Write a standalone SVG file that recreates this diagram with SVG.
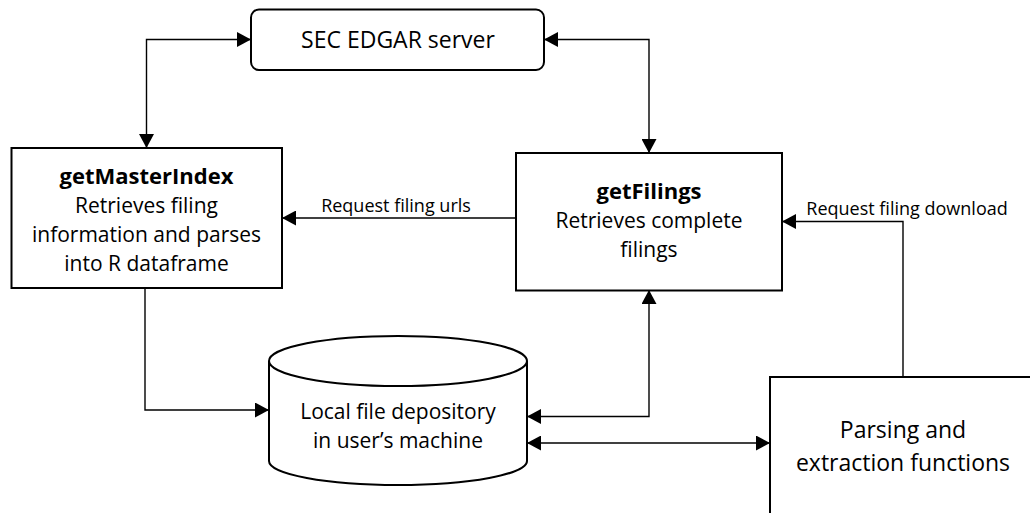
<svg xmlns="http://www.w3.org/2000/svg" width="1030" height="513" viewBox="0 0 1030 513">
<style>
.box{fill:#fff;stroke:#000;stroke-width:2}
.ln{fill:none;stroke:#000;stroke-width:1.4}
.t{font-family:"Open Sans","Noto Sans",sans-serif;font-size:21px;fill:#000;text-anchor:middle}
.b{font-weight:bold;font-size:22px}
.big{font-size:23px}
.lbl{font-family:"Open Sans","Noto Sans",sans-serif;font-size:18px;fill:#000;text-anchor:middle}
</style>
<defs>
<marker id="ah" markerUnits="userSpaceOnUse" markerWidth="15" markerHeight="15" refX="14" refY="7.5" orient="auto-start-reverse">
<path d="M0,0 L14,7.5 L0,15 z" fill="#000"/>
</marker>
</defs>
<rect width="1030" height="513" fill="#fff"/>
<g id="connectors">
<path class="ln" d="M251,39.5 H146.5 V148" marker-start="url(#ah)" marker-end="url(#ah)"/>
<path class="ln" d="M544,39.5 H649 V153" marker-start="url(#ah)" marker-end="url(#ah)"/>
<path class="ln" d="M516,218 H282" marker-end="url(#ah)"/>
<path class="ln" d="M903,377 V221.5 H782" marker-end="url(#ah)"/>
<path class="ln" d="M145,288 V410 H269" marker-end="url(#ah)"/>
<path class="ln" d="M527,416.5 H649 V290" marker-start="url(#ah)" marker-end="url(#ah)"/>
<path class="ln" d="M527,443 H770" marker-start="url(#ah)" marker-end="url(#ah)"/>
<text class="lbl" x="396" y="212">Request filing urls</text>
<text class="lbl" x="907" y="215">Request filing download</text>
</g>
<g id="sec">
<rect class="box" x="251" y="9.5" width="293" height="60.5" rx="8"/>
<text class="t big" x="398" y="48">SEC EDGAR server</text>
</g>
<g id="getMasterIndex">
<rect class="box" x="11.5" y="148" width="270.5" height="140"/>
<text class="t b" x="146.5" y="184">getMasterIndex</text>
<text class="t" x="146.5" y="213">Retrieves filing</text>
<text class="t" x="146.5" y="242">information and parses</text>
<text class="t" x="146.5" y="271">into R dataframe</text>
</g>
<g id="getFilings">
<rect class="box" x="516" y="153" width="266" height="137.5"/>
<text class="t b" x="649" y="199">getFilings</text>
<text class="t" x="649" y="228">Retrieves complete</text>
<text class="t" x="649" y="257">filings</text>
</g>
<g id="depository">
<path class="box" d="M269,361 V461 A129,24 0 0 0 527,461 V361 A129,25 0 0 0 269,361 A129,25 0 0 0 527,361"/>
<text class="t" x="398" y="419">Local file depository</text>
<text class="t" x="398" y="448">in user’s machine</text>
</g>
<g id="parsing">
<rect class="box" x="770" y="377" width="300" height="200"/>
<text class="t big" x="903" y="438">Parsing and</text>
<text class="t big" x="903" y="471">extraction functions</text>
</g>
</svg>
